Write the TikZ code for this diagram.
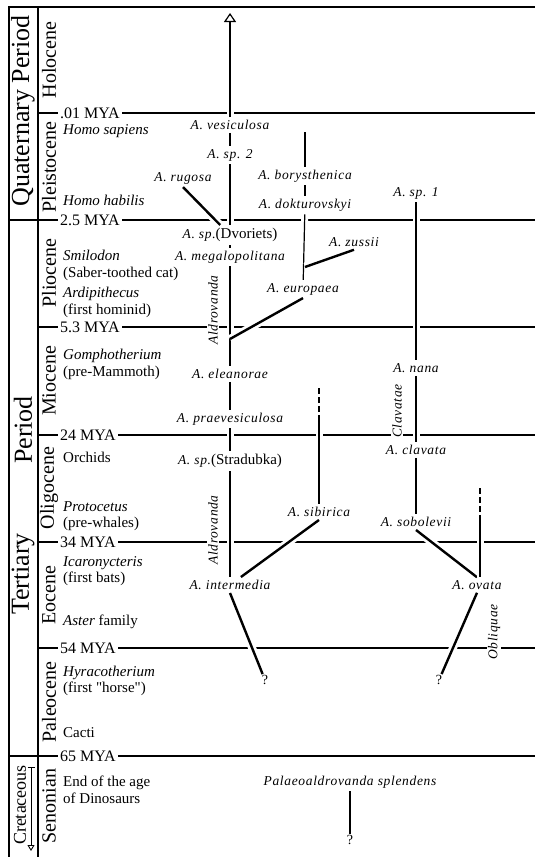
\documentclass[tikz,border=0pt]{standalone}
\usepackage{fontspec}
\setmainfont{Liberation Serif}
\newfontfamily\spfont[LetterSpace=5]{Liberation Serif}
\newfontfamily\plainq[Ligatures=TeXOff]{Liberation Serif}
\usetikzlibrary{arrows.meta}

\begin{document}
\begin{tikzpicture}[x=1pt,y=-1pt,
    frameline/.style={line width=1.6pt},
    scaleline/.style={line width=1.1pt},
    mya/.style={anchor=west,fill=white,inner sep=2pt,font=\fontsize{16}{16}\selectfont},
    epoch/.style={rotate=90,inner sep=1pt,font=\fontsize{20}{20}\selectfont},
    era/.style={rotate=90,inner sep=1pt,font=\fontsize{26}{26}\selectfont},
    event/.style={anchor=west,align=left,inner sep=0pt,font=\fontsize{15}{16.5}\selectfont},
    sp/.style={inner sep=3pt,font=\spfont\itshape\fontsize{13.5}{14}\selectfont},
    clade/.style={sp,rotate=90,fill=white,inner sep=1pt},
    qmark/.style={inner sep=1pt,font=\fontsize{14}{14}\selectfont},
    lin/.style={line width=1.2pt,preaction={draw=white,line width=7pt}},
    bold/.style={line width=2.4pt,preaction={draw=white,line width=8pt}},
    dashlin/.style={lin,dash pattern=on 6pt off 3pt},
    toparrow/.style={line width=1.2pt,-{Triangle[open,width=12pt,length=9pt]},
        preaction={draw=white,line width=7pt,-}}]

\useasboundingbox (0,0) rectangle (535,857);

% time scale
\draw[frameline] (9,857) -- (9,7) -- (535,7);
\draw[frameline] (38,7) -- (38,857);
\foreach \y/\x in {113/38,220/9,327/38,435/38,542/38,648/38,756/9}
    \draw[scaleline] (\x,\y) -- (535,\y);

\node[mya] (m001) at (58,113) {.01 MYA};
\node[mya] (m25) at (58,220) {2.5 MYA};
\node[mya] (m53) at (58,327) {5.3 MYA};
\node[mya] (m24) at (58,435) {24 MYA};
\node[mya] (m34) at (58,542) {34 MYA};
\node[mya] (m54) at (58,648) {54 MYA};
\node[mya] (m65) at (58,756) {65 MYA};

% periods and epochs
\node[era] (quat) at (23,111) {Quaternary Period};
\node[era] (tertp) at (23,430) {Period};
\node[era] (tertt) at (23,574) {Tertiary};
\node[rotate=90,inner sep=1pt,font=\fontsize{18}{18}\selectfont] (creta) at (20,805) {Cretaceous};
\coordinate (crtop) at (31,767);
\coordinate (crbot) at (31,851);
\draw[line width=0.9pt,{Bar[width=7pt]}-{Triangle[open,width=7pt,length=6pt]}] (crtop) -- (crbot);

\node[epoch] (holo) at (49,60) {Holocene};
\node[epoch] (pleis) at (49,167) {Pleistocene};
\node[epoch] (plio) at (49,273) {Pliocene};
\node[epoch] (mio) at (49,381) {Miocene};
\node[epoch] (oligo) at (49,488) {Oligocene};
\node[epoch] (eo) at (49,595) {Eocene};
\node[epoch] (paleo) at (49,702) {Paleocene};
\node[epoch] (seno) at (49,806) {Senonian};

% events
\node[event] (hsap) at (63,131) {\textit{Homo sapiens}};
\node[event] (hhab) at (63,200) {\textit{Homo habilis}};
\node[event] (smil) at (63,265.5) {\textit{Smilodon}\\(Saber-toothed cat)};
\node[event] (ardi) at (63,302.5) {\textit{Ardipithecus}\\(first hominid)};
\node[event] (gomph) at (63,364.5) {\textit{Gomphotherium}\\(pre-Mammoth)};
\node[event] (orch) at (63,457) {Orchids};
\node[event] (prot) at (63,516) {\textit{Protocetus}\\(pre-whales)};
\node[event] (icar) at (63,571) {\textit{Icaronycteris}\\(first bats)};
\node[event] (aster) at (63,622) {\textit{Aster} family};
\node[event] (hyra) at (63,681) {\textit{Hyracotherium}\\(first {\plainq"}horse{\plainq"})};
\node[event] (cacti) at (63,733) {Cacti};
\node[event] (dino) at (63,790) {End of the age\\of Dinosaurs};

% species
\node[sp] (vesic) at (230,125) {A. vesiculosa};
\node[sp] (sptwo) at (230,155) {A. sp. 2};
\node[sp] (rugosa) at (183,178) {A. rugosa};
\node[sp] (dvor) at (230,235) {A. sp.{\normalfont\fontsize{15}{15}\selectfont(Dvoriets)}};
\node[sp] (megalo) at (230,257) {A. megalopolitana};
\node[sp] (boryst) at (305,176) {A. borysthenica};
\node[sp] (dokt) at (305,205) {A. dokturovskyi};
\node[sp] (zussii) at (354,242) {A. zussii};
\node[sp] (europ) at (303,289) {A. europaea};
\node[sp] (sp1) at (416,193) {A. sp. 1};
\node[sp] (elean) at (230,374) {A. eleanorae};
\node[sp] (praev) at (230,419) {A. praevesiculosa};
\node[sp] (strad) at (230,461) {A. sp.{\normalfont\fontsize{15}{15}\selectfont(Stradubka)}};
\node[sp] (sibir) at (319,512) {A. sibirica};
\node[sp] (inter) at (230,585) {A. intermedia};
\node[sp] (nana) at (416,368) {A. nana};
\node[sp] (clav) at (416,450) {A. clavata};
\node[sp] (sobol) at (416,522) {A. sobolevii};
\node[sp] (ovata) at (477,585) {A. ovata};
\node[qmark] (q1) at (265,680) {?};
\node[qmark] (q2) at (439,680) {?};
\node[sp] (palaeo) at (350,782) {Palaeoaldrovanda splendens};
\node[qmark] (q3) at (350,840) {?};

\node[clade] (aldro1) at (213,310) {Aldrovanda};
\node[clade] (aldro2) at (213,530) {Aldrovanda};
\node[clade] (clavae) at (397,411) {Clavatae};
\node[clade] (obliq) at (494,632) {Obliquae};

\coordinate (top) at (230,13);
\coordinate (bortop) at (305,132);
\coordinate (zj) at (305,267);
\coordinate (ej) at (230,339);
\coordinate (sibtop) at (319,388);
\coordinate (sibmid) at (319,421);
\coordinate (ovtop) at (480,488);
\coordinate (ovmid) at (480,521);

% lineages
\draw[toparrow] (vesic) -- (top);
\draw[lin] (vesic) -- (sptwo);
\draw[lin] (sptwo) -- (dvor);
\draw[lin] (dvor) -- (megalo);
\draw[lin] (megalo) -- (elean);
\draw[lin] (elean) -- (praev);
\draw[lin] (praev) -- (strad);
\draw[lin] (strad) -- (inter);
\draw[bold] (rugosa.south) -- (dvor);

\draw[lin] (bortop) -- (boryst);
\draw[lin] (boryst) -- (dokt);
\draw[lin] (dokt) -- (europ);
\draw[bold] (zussii.south) -- (zj);
\draw[bold] (europ.south) -- (ej);

\draw[dashlin] (sibtop) -- (sibmid);
\draw[lin] (sibmid) -- (sibir);
\draw[bold] (sibir.south) -- (inter);

\draw[lin] (sp1) -- (nana);
\draw[lin] (nana) -- (clav);
\draw[lin] (clav) -- (sobol);
\draw[bold] (sobol.south) -- (ovata.north);
\draw[dashlin] (ovtop) -- (ovmid);
\draw[lin] (ovmid) -- (ovmid |- ovata.north);

\draw[bold] (inter.south) -- (q1);
\draw[bold] (ovata.south) -- (q2);
\draw[lin] (palaeo) -- (q3);
\end{tikzpicture}
\end{document}
